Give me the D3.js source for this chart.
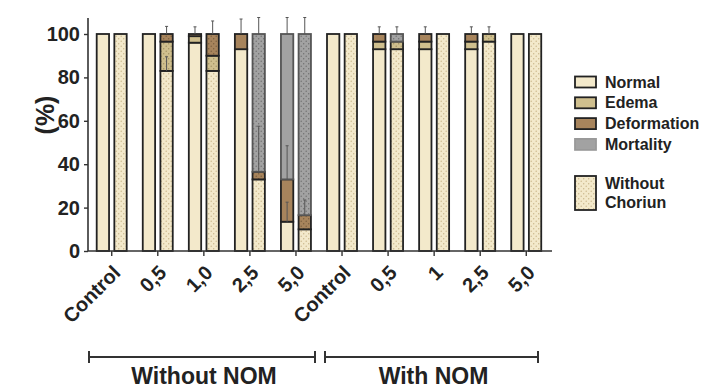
<!DOCTYPE html>
<html>
<head>
<meta charset="utf-8">
<script src="https://cdn.jsdelivr.net/npm/d3@7"></script>
<style>
  body { margin: 0; background: #fff; }
  svg { display: block; font-family: "Liberation Sans", Arial, sans-serif; }
</style>
</head>
<body>
<svg id="chart" width="705" height="389"></svg>
<script>
// categories
const groups = ["Control", "0,5", "1,0", "2,5", "5,0", "Control", "0,5", "1", "2,5", "5,0"];
const yTicks = [0, 20, 40, 60, 80, 100];

// with chorion (plain bars)
const normalPlain = [100, 100, 96, 93, 13.5, 100, 93, 93, 93, 100];
const edemaPlain  = [0, 0, 3, 0, 0, 0, 3.5, 3.5, 3.5, 0];
const deformPlain = [0, 0, 1, 7, 19.5, 0, 3.5, 3.5, 3.5, 0];
const mortPlain   = [0, 0, 0, 0, 67, 0, 0, 0, 0, 0];

// without chorion (dotted bars)
const normalDot = [100, 83, 83, 33, 10, 100, 93, 100, 96.5, 100];
const edemaDot  = [0, 13.5, 7, 0, 0, 0, 3.5, 0, 3.5, 0];
const deformDot = [0, 3.5, 10, 3.5, 6.5, 0, 0, 0, 0, 0];
const mortDot   = [0, 0, 0, 63.5, 83.5, 0, 3.5, 0, 0, 0];

// error bars: [level, sd]
const errPlain = [[], [], [[100, 3.3]], [[100, 6.9]], [[100, 7.6], [33, 15.5], [13.5, 9]], [], [[100, 3.3]], [[100, 3.3]], [[100, 3.3]], []];
const errDot   = [[], [[100, 3.5], [83, 6.5]], [[100, 6]], [[100, 7.6], [36.5, 21]], [[100, 7.6], [16.5, 7]], [], [[100, 3.3]], [], [[100, 3.3]], []];

const seriesNames = ["Normal", "Edema", "Deformation", "Mortality"];
const colors = { Normal: "#f3e9cb", Edema: "#cfbf8e", Deformation: "#a7845c", Mortality: "#a2a2a2" };
const dotColors = { Normal: "#c9b68a", Edema: "#9e8e5e", Deformation: "#765b3c", Mortality: "#6e6e6e" };

const svg = d3.select("#chart");
const defs = svg.append("defs");

// dotted patterns, one per series
seriesNames.forEach(s => {
  const p = defs.append("pattern")
    .attr("id", "dot-" + s)
    .attr("patternUnits", "userSpaceOnUse")
    .attr("width", 5).attr("height", 5);
  p.append("rect").attr("width", 5).attr("height", 5).attr("fill", colors[s]);
  p.append("circle").attr("cx", 1.2).attr("cy", 1.2).attr("r", 0.7).attr("fill", dotColors[s]);
  p.append("circle").attr("cx", 3.7).attr("cy", 3.7).attr("r", 0.7).attr("fill", dotColors[s]);
});

const y = d3.scaleLinear().domain([0, 100]).range([251, 34]);
const x0 = d3.scaleBand().domain(d3.range(groups.length)).range([88.7, 549.3]);
const x1 = d3.scaleBand().domain(["plain", "dot"]).range([8, 38]).paddingInner(0.3);

// build stacked rows
const plainRows = groups.map((g, i) => ({ Normal: normalPlain[i], Edema: edemaPlain[i], Deformation: deformPlain[i], Mortality: mortPlain[i] }));
const dotRows = groups.map((g, i) => ({ Normal: normalDot[i], Edema: edemaDot[i], Deformation: deformDot[i], Mortality: mortDot[i] }));
const stack = d3.stack().keys(seriesNames);

function drawStack(rows, kind, errs) {
  const layers = stack(rows);
  const g = svg.append("g");
  layers.forEach(layer => {
    g.selectAll(null)
      .data(layer.map((d, i) => ({ i, y0: d[0], y1: d[1] })).filter(d => d.y1 - d.y0 > 0))
      .join("rect")
      .attr("x", d => x0(d.i) + x1(kind))
      .attr("width", x1.bandwidth())
      .attr("y", d => y(d.y1))
      .attr("height", d => y(d.y0) - y(d.y1))
      .attr("fill", kind === "dot" ? "url(#dot-" + layer.key + ")" : colors[layer.key])
      .attr("stroke", layer.key === "Mortality" ? "#555" : "#222")
      .attr("stroke-width", 1.8);
  });
  // error bars
  const eb = svg.append("g").attr("stroke", "#555").attr("stroke-width", 1);
  errs.forEach((list, i) => {
    const cx = x0(i) + x1(kind) + x1.bandwidth() / 2;
    list.forEach(([v, sd]) => {
      eb.append("line").attr("x1", cx).attr("x2", cx).attr("y1", y(v)).attr("y2", y(v + sd));
      eb.append("line").attr("x1", cx - 1.5).attr("x2", cx + 1.5).attr("y1", y(v + sd)).attr("y2", y(v + sd));
    });
  });
}

drawStack(plainRows, "plain", errPlain);
drawStack(dotRows, "dot", errDot);

// axes
const axisColor = "#333";
svg.append("line").attr("x1", 88).attr("x2", 88).attr("y1", 18).attr("y2", y(0))
  .attr("stroke", axisColor).attr("stroke-width", 1.6);
svg.append("line").attr("x1", 88).attr("x2", 552).attr("y1", y(0)).attr("y2", y(0))
  .attr("stroke", axisColor).attr("stroke-width", 1.6);

const yAxis = svg.append("g")
  .attr("transform", "translate(88,0)")
  .call(d3.axisLeft(y).tickValues(yTicks).tickSize(4).tickPadding(4));
yAxis.select(".domain").remove();
yAxis.selectAll(".tick line").attr("stroke", axisColor).attr("stroke-width", 1.4);
yAxis.selectAll(".tick text")
  .attr("font-size", 20).attr("font-weight", "bold").attr("fill", "#222")
  .attr("font-family", "Liberation Sans, Arial, sans-serif");

const xAxis = svg.append("g")
  .attr("transform", `translate(0,${y(0)})`)
  .call(d3.axisBottom(x0).tickFormat(i => groups[i]).tickSize(5).tickSizeOuter(0));
xAxis.select(".domain").remove();
xAxis.selectAll(".tick line").attr("stroke", axisColor).attr("stroke-width", 1.4);
xAxis.selectAll(".tick text")
  .attr("font-size", 20).attr("font-weight", "bold").attr("fill", "#222")
  .attr("font-family", "Liberation Sans, Arial, sans-serif")
  .attr("text-anchor", "end")
  .attr("dy", "0.35em")
  .attr("transform", "translate(5,18) rotate(-45)")
  .attr("y", 0).attr("x", 0);

// y label
svg.append("text")
  .attr("transform", "translate(45,115) rotate(-90)")
  .attr("text-anchor", "middle").attr("dy", "0.35em")
  .attr("font-size", 25).attr("font-weight", "bold").attr("fill", "#222")
  .text("(%)");

// group brackets
const brackets = [
  { label: "Without NOM", x1: 89, x2: 315 },
  { label: "With NOM", x1: 325, x2: 538 }
];
const bY = 357;
brackets.forEach(b => {
  const g = svg.append("g").attr("stroke", "#333").attr("stroke-width", 2);
  g.append("line").attr("x1", b.x1).attr("x2", b.x2).attr("y1", bY).attr("y2", bY);
  g.append("line").attr("x1", b.x1).attr("x2", b.x1).attr("y1", bY - 6).attr("y2", bY + 6);
  g.append("line").attr("x1", b.x2).attr("x2", b.x2).attr("y1", bY - 6).attr("y2", bY + 6);
  svg.append("text")
    .attr("x", (b.x1 + b.x2) / 2 + 2).attr("y", 384)
    .attr("text-anchor", "middle")
    .attr("font-size", 23).attr("font-weight", "bold").attr("fill", "#222")
    .text(b.label);
});

// legend
const legend = svg.append("g").attr("transform", "translate(575,0)");
seriesNames.forEach((s, i) => {
  const cy = 82 + i * 20.8;
  legend.append("rect")
    .attr("x", 0).attr("y", cy - 5.5).attr("width", 21).attr("height", 11)
    .attr("fill", colors[s])
    .attr("stroke", s === "Mortality" ? "#999" : "#222").attr("stroke-width", 1.8);
  legend.append("text")
    .attr("x", 30).attr("y", cy).attr("dy", "0.35em")
    .attr("font-size", 16).attr("font-weight", "bold").attr("fill", "#222")
    .text(s);
});
legend.append("rect")
  .attr("x", 0).attr("y", 176).attr("width", 21).attr("height", 34)
  .attr("fill", "url(#dot-Normal)").attr("stroke", "#222").attr("stroke-width", 1.8);
legend.append("text")
  .attr("x", 30).attr("y", 183).attr("dy", "0.35em")
  .attr("font-size", 16).attr("font-weight", "bold").attr("fill", "#222")
  .text("Without");
legend.append("text")
  .attr("x", 30).attr("y", 202.5).attr("dy", "0.35em")
  .attr("font-size", 16).attr("font-weight", "bold").attr("fill", "#222")
  .text("Choriun");
</script>
</body>
</html>
